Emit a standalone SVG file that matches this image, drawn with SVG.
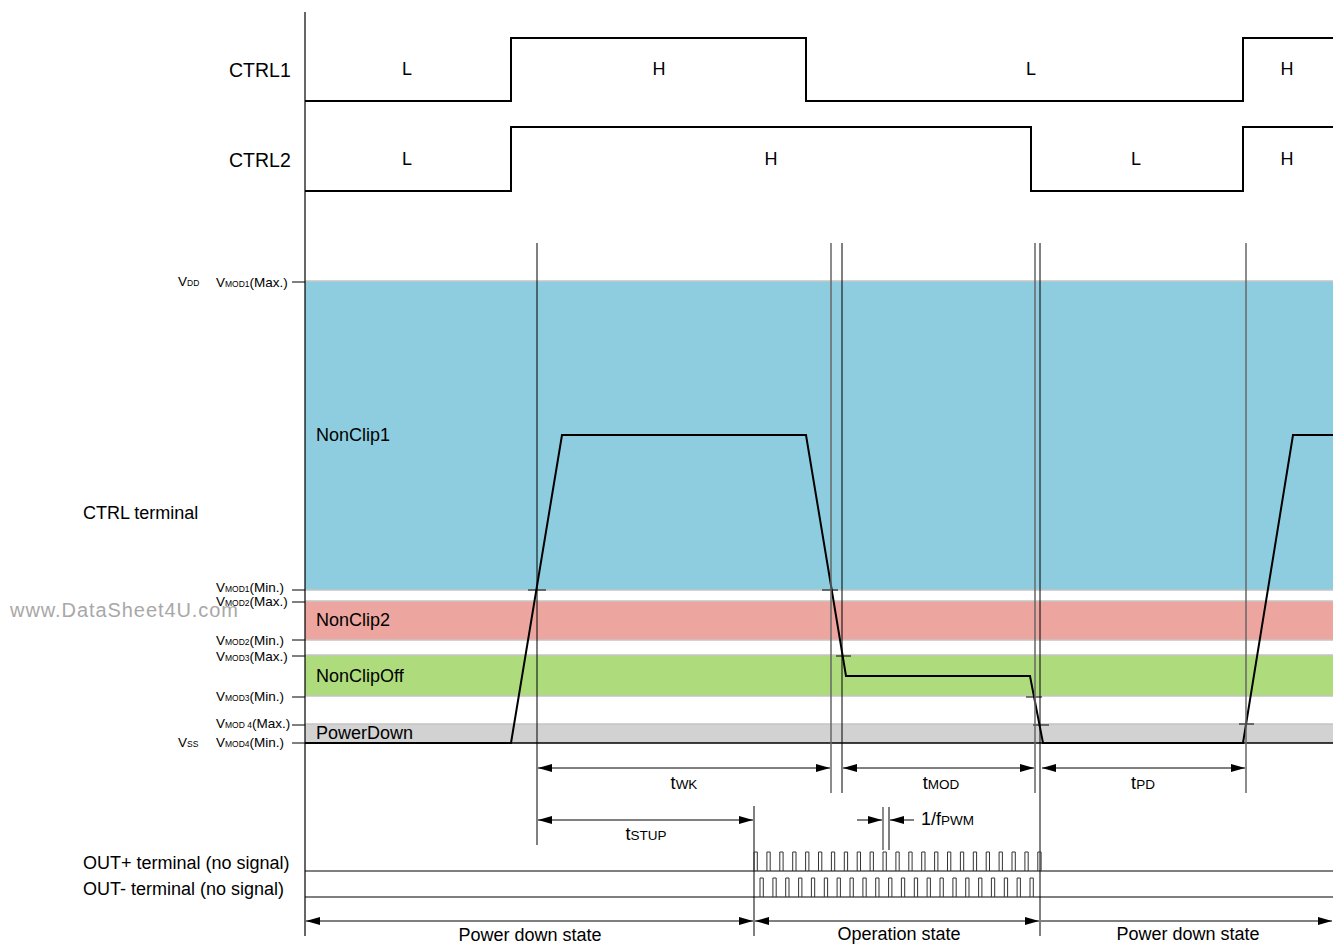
<svg xmlns="http://www.w3.org/2000/svg" width="1333" height="945" viewBox="0 0 1333 945">
<style>
text{font-family:"Liberation Sans",Arial,sans-serif;fill:#000}
.lb{font-size:18px}
.st{font-size:19.5px}
.ax{font-size:13.5px}
.sb{font-size:8.5px}
.ts{font-size:13.5px}
.wf{fill:none;stroke:#000;stroke-width:2}
.thin{fill:none;stroke:#000;stroke-width:1}
.gry{fill:none;stroke:#666;stroke-width:1.5}
.bd{stroke:#c4c4c4;stroke-width:1.5}
.dim{fill:none;stroke:#000;stroke-width:1;marker-start:url(#ah);marker-end:url(#ah)}
.one{fill:none;stroke:#000;stroke-width:1;marker-end:url(#ah)}
.pl{fill:none;stroke:#333;stroke-width:1}
</style>
<defs>
<marker id="ah" viewBox="0 0 14 8" refX="14" refY="4" markerWidth="14" markerHeight="8" markerUnits="userSpaceOnUse" orient="auto-start-reverse"><path d="M0,0 L14,4 L0,8 z" fill="#000"/></marker>
</defs>
<rect width="1333" height="945" fill="#fff"/>

<g id="bands">
<rect x="305" y="281" width="1028" height="309" fill="#8ECDDF"/>
<rect x="305" y="601" width="1028" height="39" fill="#EDA59F"/>
<rect x="305" y="655" width="1028" height="41" fill="#AEDC7D"/>
<rect x="305" y="724" width="1028" height="19" fill="#D2D2D2"/>
<g class="bd">
<line x1="305" y1="281" x2="1333" y2="281"/>
<line x1="305" y1="590" x2="1333" y2="590"/>
<line x1="305" y1="601" x2="1333" y2="601"/>
<line x1="305" y1="640" x2="1333" y2="640"/>
<line x1="305" y1="655" x2="1333" y2="655"/>
<line x1="305" y1="696" x2="1333" y2="696"/>
<line x1="305" y1="724" x2="1333" y2="724"/>
</g>
<line x1="305" y1="743" x2="1333" y2="743" stroke="#000" stroke-width="1.5"/>
<text class="lb" x="316" y="441">NonClip1</text>
<text class="lb" x="316" y="626">NonClip2</text>
<text class="lb" x="316" y="682">NonClipOff</text>
<text class="lb" x="316" y="739">PowerDown</text>
</g>

<g id="axis">
<line x1="305" y1="12" x2="305" y2="936" stroke="#000" stroke-width="1.2"/>
<g stroke="#000" stroke-width="1">
<line x1="292" y1="282" x2="305" y2="282"/>
<line x1="292" y1="590" x2="305" y2="590"/>
<line x1="292" y1="602" x2="305" y2="602"/>
<line x1="292" y1="640" x2="305" y2="640"/>
<line x1="292" y1="656" x2="305" y2="656"/>
<line x1="292" y1="697" x2="305" y2="697"/>
<line x1="292" y1="725" x2="305" y2="725"/>
<line x1="292" y1="743" x2="305" y2="743"/>
</g>
<text class="ax" x="178" y="286">V<tspan class="sb">DD</tspan></text>
<text class="ax" x="216" y="287">V<tspan class="sb">MOD1</tspan>(Max.)</text>
<text class="ax" x="216" y="592">V<tspan class="sb">MOD1</tspan>(Min.)</text>
<text class="ax" x="216" y="606">V<tspan class="sb">MOD2</tspan>(Max.)</text>
<text class="ax" x="216" y="645">V<tspan class="sb">MOD2</tspan>(Min.)</text>
<text class="ax" x="216" y="661">V<tspan class="sb">MOD3</tspan>(Max.)</text>
<text class="ax" x="216" y="701">V<tspan class="sb">MOD3</tspan>(Min.)</text>
<text class="ax" x="216" y="728">V<tspan class="sb">MOD 4</tspan>(Max.)</text>
<text class="ax" x="178" y="747">V<tspan class="sb">SS</tspan></text>
<text class="ax" x="216" y="747">V<tspan class="sb">MOD4</tspan>(Min.)</text>
<text x="10" y="617" font-size="20" style="fill:#a8a8a8" textLength="228">www.DataSheet4U.com</text>
</g>

<g id="ctrl1">
<text class="st" x="229" y="77">CTRL1</text>
<path class="wf" d="M305,101 H511 V38 H806 V101 H1243 V38 H1333"/>
<text class="lb" x="407" y="75" text-anchor="middle">L</text>
<text class="lb" x="659" y="75" text-anchor="middle">H</text>
<text class="lb" x="1031" y="75" text-anchor="middle">L</text>
<text class="lb" x="1287" y="75" text-anchor="middle">H</text>
</g>

<g id="ctrl2">
<text class="st" x="229" y="167">CTRL2</text>
<path class="wf" d="M305,191 H511 V127 H1031 V191 H1243 V127 H1333"/>
<text class="lb" x="407" y="165" text-anchor="middle">L</text>
<text class="lb" x="771" y="165" text-anchor="middle">H</text>
<text class="lb" x="1136" y="165" text-anchor="middle">L</text>
<text class="lb" x="1287" y="165" text-anchor="middle">H</text>
</g>

<g id="ctrl-terminal">
<text class="lb" x="83" y="519">CTRL terminal</text>
<path class="wf" d="M305,743 H511 L562,435 H806 L846,676 H1030 L1043,743 H1243 L1293,435 H1333" stroke-width="2.2"/>
<g stroke="#000" stroke-width="1">
<line x1="528" y1="590" x2="546" y2="590"/>
<line x1="822" y1="590" x2="838" y2="590"/>
<line x1="836" y1="656" x2="851" y2="656"/>
<line x1="1026" y1="697" x2="1042" y2="697"/>
<line x1="1033" y1="725" x2="1049" y2="725"/>
<line x1="1239" y1="724" x2="1254" y2="724"/>
</g>
</g>

<g id="connectors">
<line class="thin" x1="537" y1="243" x2="537" y2="845"/>
<line class="gry" x1="831" y1="243" x2="831" y2="793"/>
<line class="thin" x1="842" y1="243" x2="842" y2="793"/>
<line class="gry" x1="1035" y1="243" x2="1035" y2="793"/>
<line class="thin" x1="1040" y1="243" x2="1040" y2="936"/>
<line class="gry" x1="1246" y1="243" x2="1246" y2="793"/>
<line class="thin" x1="754" y1="806" x2="754" y2="936"/>
<line class="gry" x1="883" y1="807" x2="883" y2="850"/>
<line class="thin" x1="889" y1="807" x2="889" y2="850"/>

<line class="dim" x1="538" y1="768" x2="830" y2="768"/>
<line class="dim" x1="843" y1="768" x2="1034" y2="768"/>
<line class="dim" x1="1042" y1="768" x2="1245" y2="768"/>
<line class="dim" x1="538" y1="820" x2="753" y2="820"/>
<line class="one" x1="857" y1="820" x2="882" y2="820"/>
<line class="one" x1="914" y1="820" x2="890" y2="820"/>
<line class="dim" x1="306" y1="921" x2="753" y2="921"/>
<line class="dim" x1="755" y1="921" x2="1039" y2="921"/>
<line class="one" x1="1041" y1="921" x2="1332" y2="921"/>
</g>

<g id="labels">
<text class="lb" x="684" y="789" text-anchor="middle">t<tspan class="ts">WK</tspan></text>
<text class="lb" x="941" y="789" text-anchor="middle">t<tspan class="ts">MOD</tspan></text>
<text class="lb" x="1143" y="789" text-anchor="middle">t<tspan class="ts">PD</tspan></text>
<text class="lb" x="646" y="840" text-anchor="middle">t<tspan class="ts">STUP</tspan></text>
<text class="lb" x="921" y="825">1/f<tspan class="ts">PWM</tspan></text>
<text class="lb" x="530" y="941" text-anchor="middle">Power down state</text>
<text class="lb" x="899" y="940" text-anchor="middle">Operation state</text>
<text class="lb" x="1188" y="940" text-anchor="middle">Power down state</text>
</g>

<g id="out-plus">
<text class="lb" x="83" y="869">OUT+ terminal (no signal)</text>
<line x1="305" y1="871" x2="1333" y2="871" stroke="#000" stroke-width="1"/>
<path class="pl" d="M754,871V852H757.3V871 M766.9,871V852H770.2V871 M779.8,871V852H783.1V871 M792.7,871V852H796V871 M805.6,871V852H808.9V871 M818.5,871V852H821.8V871 M831.4,871V852H834.7V871 M844.3,871V852H847.6V871 M857.2,871V852H860.5V871 M870.1,871V852H873.4V871 M883,871V852H886.3V871 M895.9,871V852H899.2V871 M908.8,871V852H912.1V871 M921.7,871V852H925V871 M934.6,871V852H937.9V871 M947.5,871V852H950.8V871 M960.4,871V852H963.7V871 M973.3,871V852H976.6V871 M986.2,871V852H989.5V871 M999.1,871V852H1002.4V871 M1012,871V852H1015.3V871 M1024.9,871V852H1028.2V871 M1037.8,871V852H1041.1V871"/>
</g>

<g id="out-minus">
<text class="lb" x="83" y="895">OUT- terminal (no signal)</text>
<line x1="305" y1="897" x2="1333" y2="897" stroke="#000" stroke-width="1"/>
<path class="pl" d="M760,897V878H763.3V897 M772.9,897V878H776.2V897 M785.7,897V878H789V897 M798.6,897V878H801.9V897 M811.4,897V878H814.7V897 M824.3,897V878H827.6V897 M837.1,897V878H840.4V897 M850,897V878H853.3V897 M862.9,897V878H866.2V897 M875.7,897V878H879V897 M888.6,897V878H891.9V897 M901.4,897V878H904.7V897 M914.3,897V878H917.6V897 M927.1,897V878H930.4V897 M940,897V878H943.3V897 M952.9,897V878H956.2V897 M965.7,897V878H969V897 M978.6,897V878H981.9V897 M991.4,897V878H994.7V897 M1004.3,897V878H1007.6V897 M1017.1,897V878H1020.4V897 M1030,897V878H1033.3V897"/>
</g>
</svg>
